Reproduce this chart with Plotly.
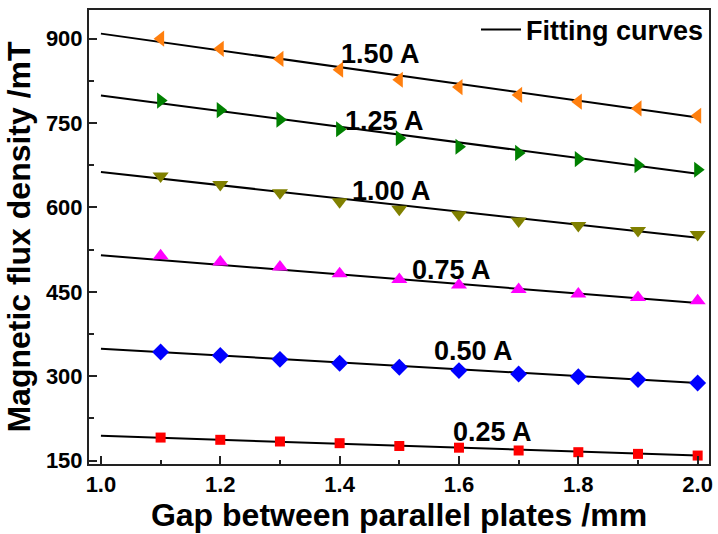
import plotly.graph_objects as go

gap = [1.1, 1.2, 1.3, 1.4, 1.5, 1.6, 1.7, 1.8, 1.9, 2.0]
currents = ["1.50 A", "1.25 A", "1.00 A", "0.75 A", "0.50 A", "0.25 A"]

b_150 = [900, 882, 864, 845, 827, 814, 800, 788, 776, 763]
b_125 = [790, 773, 756, 739, 723, 708, 697, 686, 675, 667]
b_100 = [656, 641, 626, 610, 597, 587, 576, 568, 559, 552]
b_075 = [514, 503, 494, 482, 472, 462, 454, 446, 440, 434]
b_050 = [343, 337, 330, 323, 316, 310, 304, 299, 294, 288]
b_025 = [191, 187, 184, 181, 176, 173, 168, 165, 162, 159]

fit_x = [1.0, 2.0]
fit_150 = [909, 760]
fit_125 = [799, 660]
fit_100 = [663, 546]
fit_075 = [515, 430]
fit_050 = [349, 288]
fit_025 = [194, 159]

colors = ["#FF7F0E", "#008000", "#808000", "#FF00FF", "#0000FF", "#FF0000"]
symbols = ["triangle-left", "triangle-right", "triangle-down", "triangle-up", "diamond", "square"]
sizes = [14, 14, 14, 14, 13, 10]

label_x = [1.468, 1.475, 1.487, 1.587, 1.625, 1.657]
label_y = [872, 754, 630, 489, 345, 201]

series = [b_150, b_125, b_100, b_075, b_050, b_025]
fits = [fit_150, fit_125, fit_100, fit_075, fit_050, fit_025]

fig = go.Figure()
for i, (s, f) in enumerate(zip(series, fits)):
    fig.add_trace(go.Scatter(
        x=fit_x, y=f, mode="lines",
        line=dict(color="black", width=2),
        name="<b>Fitting curves</b>", showlegend=(i == 0), legendgroup="fit",
    ))
    fig.add_trace(go.Scatter(
        x=gap, y=s, mode="markers",
        marker=dict(symbol=symbols[i], color=colors[i], size=sizes[i], line=dict(width=0)),
        name=currents[i], showlegend=False,
    ))

for i, lab in enumerate(currents):
    fig.add_annotation(x=label_x[i], y=label_y[i], text="<b>%s</b>" % lab,
                       showarrow=False, font=dict(size=27, color="black"))

font_family = "Liberation Sans, Arial, sans-serif"
tick_style = dict(ticks="inside", ticklen=8, tickwidth=1.5, tickcolor="#222")
fig.update_layout(
    width=718, height=534,
    margin=dict(l=89, r=6, t=5, b=70),
    paper_bgcolor="white", plot_bgcolor="white",
    font=dict(family=font_family, color="black"),
    showlegend=True,
    legend=dict(x=1, y=1.01, xanchor="right", yanchor="top",
                bgcolor="rgba(0,0,0,0)", font=dict(size=27),
                itemwidth=40),
    xaxis=dict(
        range=[0.98, 2.019], tickmode="linear", tick0=1.0, dtick=0.2,
        tickformat=".1f", **tick_style,
        minor=dict(dtick=0.1, ticks="inside", ticklen=4, tickwidth=1.5, tickcolor="#222"),
        showline=True, linecolor="#222", linewidth=2, mirror=True,
        showgrid=False, zeroline=False,
        tickfont=dict(size=22),
        title=dict(text="<b>Gap between parallel plates /mm</b>", font=dict(size=32), standoff=6),
    ),
    yaxis=dict(
        range=[144, 951], tickmode="linear", tick0=150, dtick=150, **tick_style,
        minor=dict(dtick=75, ticks="inside", ticklen=5, tickwidth=1.5, tickcolor="#222"),
        showline=True, linecolor="#222", linewidth=2, mirror=True,
        showgrid=False, zeroline=False,
        tickfont=dict(size=22),
        title=dict(text="<b>Magnetic flux density /mT</b>", font=dict(size=32), standoff=6),
    ),
)
fig.update_xaxes(tickprefix="<b>", ticksuffix="</b>")
fig.update_yaxes(tickprefix="<b>", ticksuffix="</b>")

fig.write_html("out.html")
